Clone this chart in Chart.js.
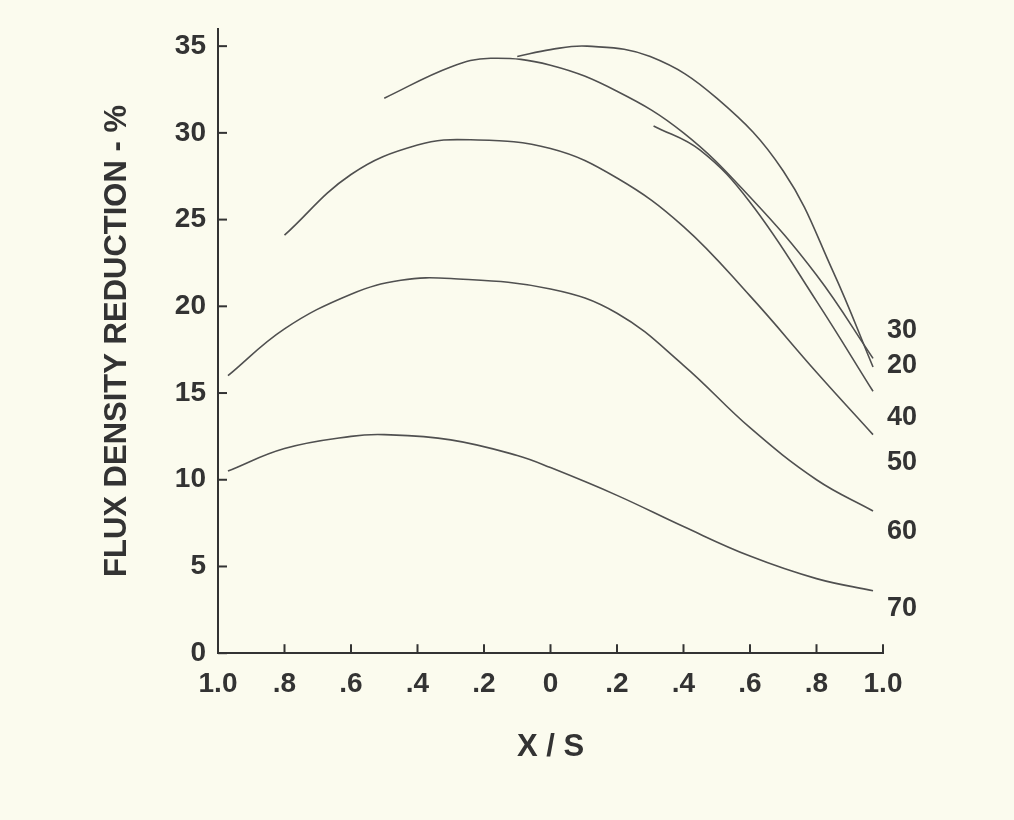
<!DOCTYPE html>
<html><head><meta charset="utf-8">
<script src="https://cdn.jsdelivr.net/npm/chart.js@4/dist/chart.umd.min.js"></script>
<style>html,body{margin:0;background:#fbfbee;}#w{width:1014px;height:820px;}</style>
</head><body><div id="w"><canvas id="c"></canvas></div>
<script>
const xTicks = [-1,-0.8,-0.6,-0.4,-0.2,0,0.2,0.4,0.6,0.8,1.0];
const yTicks = [0,5,10,15,20,25,30,35];
const curveLabels = ["30","20","40","50","60","70"];
const x30 = [-0.5,-0.3,-0.18,0,0.2,0.4,0.6,0.8,0.97];
const y30 = [32.0,33.8,34.3,33.9,32.4,30.0,26.3,21.8,17.0];
const x20 = [-0.1,0,0.11,0.3,0.5,0.7,0.85,0.97];
const y20 = [34.4,34.8,35.0,34.4,32.0,27.8,22.0,16.5];
const x40 = [0.31,0.45,0.6,0.8,0.97];
const y40 = [30.4,29.0,26.0,20.3,15.1];
const x50 = [-0.8,-0.6,-0.4,-0.24,0,0.2,0.4,0.6,0.8,0.97];
const y50 = [24.1,27.6,29.3,29.6,29.1,27.4,24.6,20.6,16.2,12.6];
const x60 = [-0.97,-0.8,-0.6,-0.45,-0.3,0,0.2,0.4,0.6,0.8,0.97];
const y60 = [16.0,18.7,20.7,21.5,21.6,21.0,19.6,16.6,13.0,10.0,8.2];
const x70 = [-0.97,-0.8,-0.6,-0.5,-0.3,-0.1,0,0.2,0.4,0.6,0.8,0.97];
const y70 = [10.5,11.8,12.5,12.6,12.3,11.4,10.7,9.1,7.3,5.6,4.3,3.6];
const xs=[x30,x20,x40,x50,x60,x70], ys=[y30,y20,y40,y50,y60,y70];
const labelY=[18.6,16.6,13.6,11.0,7.0,2.6];
const ink='#333';
const F='"Liberation Sans", Arial';
const datasets = xs.map((xa,i)=>({label:curveLabels[i],data:xa.map((x,j)=>({x,y:ys[i][j]})),
  borderColor:'#505050',borderWidth:1.6,pointRadius:0,tension:0.4,fill:false}));
const deco={id:'deco',afterDraw(ch){
  const c=ch.ctx,xs_=ch.scales.x,ys_=ch.scales.y;c.save();c.strokeStyle=ink;c.lineWidth=2;
  xTicks.forEach(v=>{const p=xs_.getPixelForValue(v);c.beginPath();c.moveTo(p,ys_.bottom);c.lineTo(p,ys_.bottom-9);c.stroke();});
  yTicks.forEach(v=>{const p=ys_.getPixelForValue(v);c.beginPath();c.moveTo(xs_.left,p);c.lineTo(xs_.left+9,p);c.stroke();});
  c.fillStyle=ink;c.font='bold 27px '+F;c.textBaseline='middle';c.textAlign='left';
  curveLabels.forEach((l,i)=>c.fillText(l,xs_.getPixelForValue(1)+4,ys_.getPixelForValue(labelY[i])));
  c.restore();}};
new Chart(document.getElementById('c'),{type:'line',data:{datasets},plugins:[deco],
 options:{responsive:true,maintainAspectRatio:false,animation:false,
  layout:{padding:{left:95,right:131,top:28,bottom:50}},
  plugins:{legend:{display:false},tooltip:{enabled:false}},
  scales:{
   x:{type:'linear',min:-1,max:1,afterBuildTicks:s=>{s.ticks=xTicks.map(v=>({value:v}));},
     grid:{display:false,drawTicks:false},border:{color:ink,width:2},
     ticks:{color:ink,padding:14,font:{size:28,weight:'bold',family:F},maxRotation:0,autoSkip:false,
       callback:v=>{const a=Math.abs(v);if(a<1e-9)return '0';if(Math.abs(a-1)<1e-9)return '1.0';return a.toFixed(1).replace(/^0/,'');}},
     title:{display:true,text:'X / S',color:ink,font:{size:31,weight:'bold',family:F},padding:{top:14}}},
   y:{min:0,max:36,afterBuildTicks:s=>{s.ticks=yTicks.map(v=>({value:v}));},
     afterFit:s=>{s.width=123;},
     grid:{display:false,drawTicks:false},border:{color:ink,width:2},
     ticks:{color:ink,padding:12,font:{size:28,weight:'bold',family:F}},
     title:{display:true,text:'FLUX DENSITY REDUCTION - %',color:ink,font:{size:31,weight:'bold',family:F},padding:{bottom:4}}}
  }}});
</script></body></html>
